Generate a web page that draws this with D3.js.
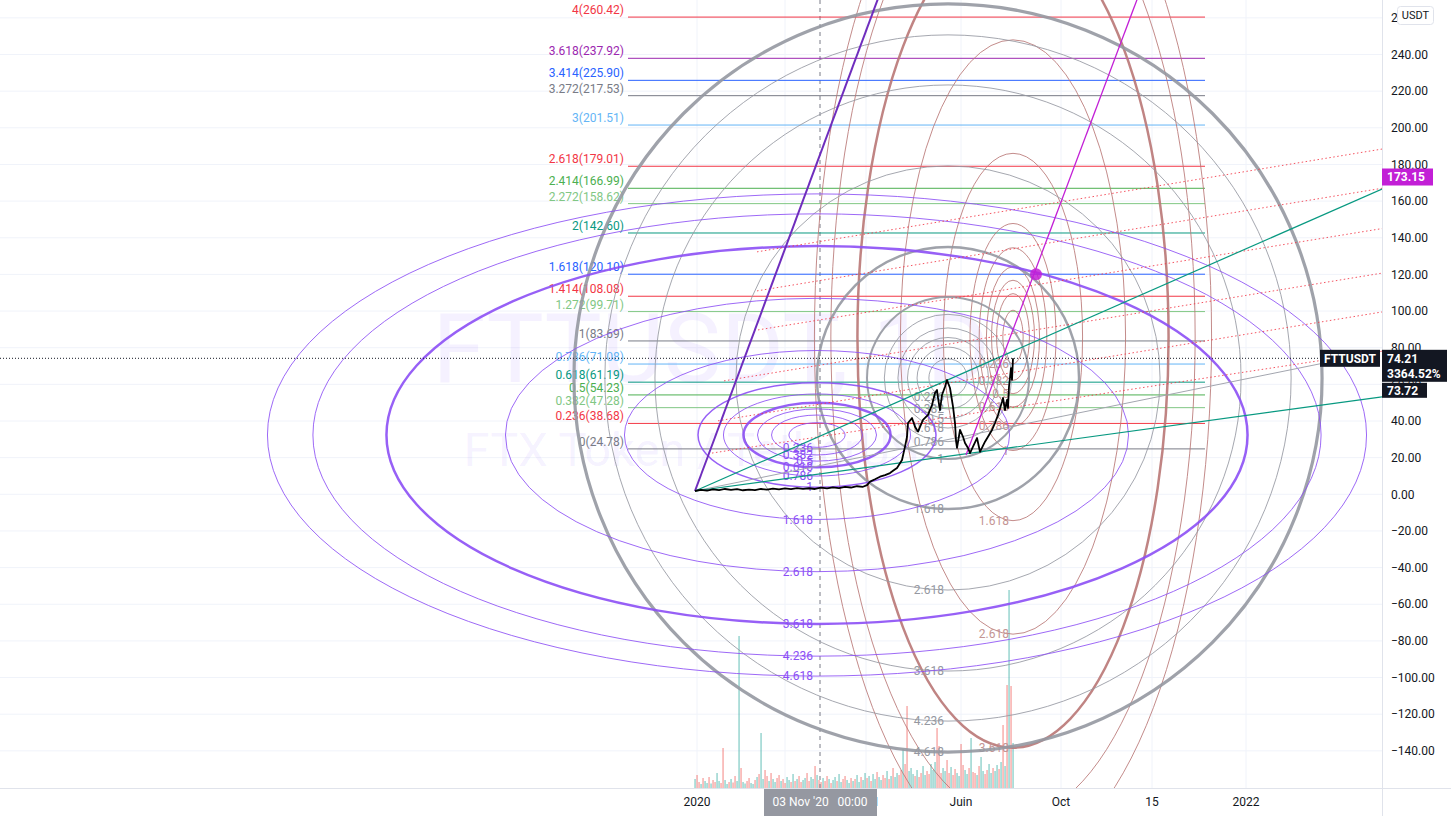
<!DOCTYPE html>
<html><head><meta charset="utf-8">
<script src="https://cdn.jsdelivr.net/npm/d3@7"></script>
<style>html,body{margin:0;padding:0;background:#fff;overflow:hidden}svg{display:block;font-family:Roboto,"Liberation Sans",sans-serif}</style>
</head><body><svg id="c" width="1451" height="816"></svg>
<script>
// ---------------- DATA ----------------
const priceDays = [0,6,12,18,24,30,36,42,48,54,60,66,72,78,84,90,96,102,108,114,120,126,132,138,144,150,156,162,168,172,
  175,180,185,190,195,198,202,207,210,212,213,217,220,223,228,233,237,240,242,243,245,247,250,252,255,258,260,261,262,
  265,268,270,273,275,278,282,285,290,293,297,300,303,307,308,310,312,313,314,316,317,318];
const priceValues = [1.8,2.4,2.0,2.7,2.3,2.9,2.4,2.8,2.2,2.6,2.3,2.9,2.5,3.1,2.7,3.2,2.8,3.4,3.0,3.3,2.9,3.6,3.2,3.8,3.4,4.0,3.7,4.4,4.1,5.0,
  6.9,8.2,9.6,10.5,11.6,12.8,14.4,18.7,26.0,31.4,38.9,41.6,36.9,34.2,40.6,43.3,48.7,55.3,56.9,52.6,46.0,54.2,58.7,62.4,58.0,47.8,38.9,29.6,25.3,
  35.1,31.4,28.0,25.3,22.5,26.0,30.7,23.2,28.7,31.4,35.1,38.9,43.3,50.5,52.6,46.0,51.5,47.1,58.7,68.9,62.4,74.21];

// volume: one bar every 2 days starting at day 0
const volumeValues = [18,26,12,8,20,14,10,22,9,16, 12,30,14,10,80,16,8,12,18,11, 24,14,304,40,12,9,14,20,10,8,
  16,22,28,110,18,36,24,14,30,18, 12,20,26,14,18,10,22,16,12,28, 14,18,24,12,16,20,30,14,22,18,
  44,26,16,12,20,14,24,18,10,16, 22,14,28,12,18,24,16,10,20,14, 18,26,12,22,16,30,20,24,14,28,
  18,32,22,16,26,20,34,18,24,40, 22,30,26,36,78,48,164,34,40,28, 24,36,22,30,44,26,34,28,48,36,
  52,120,84,30,40,34,56,30,42,26, 38,30,24,88,46,36,28,40,100,32, 30,26,44,62,34,28,36,48,30,40,
  34,46,38,52,126,44,206,396,204,90];
const volumeDirs = "udduduudud"+"duudduudud"+"duuduudduu"+"duduuddudu"+"uddudduudu"+"dudduudduu"+"dudduddudu"+"uduudduudu"+
  "duuduududu"+"uduuddudud"+"uuddudduuu"+"dudduudduu"+"uddduuddud"+"duudduudud"+"duduudduud"+"uududududu";

const priceTicks = [260,240,220,200,180,160,140,120,100,80,60,40,20,0,-20,-40,-60,-80,-100,-120,-140];
const timeTickDays = [2,90,171,266,366,457,551];
const timeTickLabels = ["2020","Juil","2021","Juin","Oct","15","2022"];

// Fib retracement
const fibLevels = [4,3.618,3.414,3.272,3,2.618,2.414,2.272,2,1.618,1.414,1.272,1,0.786,0.618,0.5,0.382,0.236,0];
const fibPrices = [260.42,237.92,225.90,217.53,201.51,179.01,166.99,158.62,142.60,120.10,108.08,99.71,83.69,71.08,61.19,54.23,47.28,38.68,24.78];
const fibStartDay = -67, fibEndDay = 510;

// Fib circles (center day, center price, unit radius in days, unit radius in price)
const circleLevels = [0.236,0.382,0.5,0.618,0.786,1,1.618,2.618,3.618,4.236,4.618];
const purpleCircle = [122, 32.36, 119, 28.49];
const grayCircle = [253, 63.47, 81, 44.2];
const roseCircle = [318, 85.84, 43, 61.94];

// Trend lines [day1, price1, day2, price2]
const purpleRay = [0,1.8,188.8,279];
const magentaRay = [271,21.5,449.4,280.7];
const tealA = [0,1.8,687,166.6];
const tealB = [0,1.8,687,53.2];
const grayC = [0,1.8,625,71.2];
const redDotted = [[62,132.3,687,188.4],[62,111.0,687,167.0],[63,89.7,687,145.0],[29,61.9,687,120.7],[23,40.1,687,99.5],[17,22.5,687,78.1]];
const dotPoint = [341,120.1];
const lastPrice = 74.21, lastPct = "3364.52%", secondPrice = 73.72, magentaPrice = 173.15;
const crosshairDay = 125, crosshairLabel = "03 Nov '20   00:00";

// ---------------- STYLE ----------------
const fibColors = {"4":"#f23645","3.618":"#9c27b0","3.414":"#2962ff","3.272":"#787b86","3":"#64b5f6","2.618":"#f23645",
 "2.414":"#4caf50","2.272":"#81c784","2":"#089981","1.618":"#2962ff","1.414":"#f23645","1.272":"#81c784","1":"#787b86",
 "0.786":"#64b5f6","0.618":"#089981","0.5":"#4caf50","0.382":"#81c784","0.236":"#f23645","0":"#787b86"};
const W = 1451, H = 816, paneW = 1382, paneH = 788;

const svg = d3.select("#c");
const x = d3.scaleLinear().domain([0,318]).range([695,1013]);
const y = d3.scaleLinear().domain([0,240]).range([494.3,54.5]);
const vy = d3.scaleLinear().domain([0,400]).range([paneH, paneH-200]);

svg.append("rect").attr("width",W).attr("height",H).attr("fill","#fff");
svg.append("defs").append("clipPath").attr("id","pane").append("rect").attr("width",paneW).attr("height",paneH);
const pane = svg.append("g").attr("clip-path","url(#pane)");

// grid
pane.selectAll(".hg").data(priceTicks).join("line").attr("x1",0).attr("x2",paneW)
  .attr("y1",d=>y(d)).attr("y2",d=>y(d)).attr("stroke","#f0f3fa").attr("stroke-width",1);
pane.selectAll(".vg").data(timeTickDays).join("line").attr("y1",0).attr("y2",paneH)
  .attr("x1",d=>x(d)).attr("x2",d=>x(d)).attr("stroke","#f0f3fa").attr("stroke-width",1);

// watermark
pane.append("text").attr("x",paneW/2+20).attr("y",382).attr("text-anchor","middle").attr("font-size",96)
  .attr("fill","#7b4dff").attr("fill-opacity",0.08).text("FTTUSDT, 1D");
pane.append("text").attr("x",paneW/2).attr("y",466).attr("text-anchor","middle").attr("font-size",47)
  .attr("fill","#7b4dff").attr("fill-opacity",0.08).text("FTX Token / TetherUS");

// volume
pane.selectAll(".vol").data(volumeValues).join("rect")
  .attr("x",(d,i)=>x(i*2)-0.6).attr("width",1.3)
  .attr("y",d=>vy(d)).attr("height",d=>paneH-vy(d))
  .attr("fill",(d,i)=>volumeDirs[i]==="u"?"rgba(38,166,154,0.55)":"rgba(239,83,80,0.55)");

// crosshair vertical
pane.append("line").attr("x1",x(crosshairDay)).attr("x2",x(crosshairDay)).attr("y1",0).attr("y2",paneH)
  .attr("stroke","#787b86").attr("stroke-dasharray","4,4").attr("stroke-width",1);

// fib retracement
const fibG = pane.append("g");
fibLevels.forEach((lv,i)=>{
  const c = fibColors[String(lv)];
  fibG.append("line").attr("x1",x(fibStartDay)).attr("x2",x(fibEndDay)).attr("y1",y(fibPrices[i])).attr("y2",y(fibPrices[i]))
    .attr("stroke",c).attr("stroke-width",1);
  fibG.append("text").attr("x",x(fibStartDay)-4).attr("y",y(fibPrices[i])-3).attr("text-anchor","end")
    .attr("font-size",12).attr("fill",c).text(lv+"("+fibPrices[i].toFixed(2)+")");
});

// fib circles
function drawCircles(spec, color, thick, labelColor){
  const g = pane.append("g");
  const [cd,cp,ud,up] = spec;
  const cx = x(cd), cy = y(cp);
  circleLevels.forEach(lv=>{
    const rx = x(cd+lv*ud)-cx, ry = cy - y(cp+lv*up);
    g.append("ellipse").attr("cx",cx).attr("cy",cy).attr("rx",rx).attr("ry",ry)
      .attr("fill","none").attr("stroke",color).attr("stroke-width",thick[lv]||1).attr("stroke-opacity",thick[lv]?0.9:0.85);
  });
  circleLevels.forEach(lv=>{
    const ly = cy + (cy - y(cp+lv*up));
    if (ly > paneH - 8) return;
    g.append("text").attr("x",cx-4).attr("y",ly).attr("dy","0.35em").attr("text-anchor","end")
      .attr("font-size",12).attr("fill",labelColor).text(lv);
  });
}
drawCircles(roseCircle, "#b97775", {3.618:2.5}, "#c49594");
drawCircles(grayCircle, "#9598a1", {1:2, 1.618:2.5, 4.618:3.2}, "#9598a1");
drawCircles(purpleCircle, "#8c4ff5", {0.618:2.5, 1:1.5, 3.618:2.5}, "#8c4ff5");

// lines
function seg(s){ return pane.append("line").attr("x1",x(s[0])).attr("y1",y(s[1])).attr("x2",x(s[2])).attr("y2",y(s[3])); }
redDotted.forEach(s=>seg(s).attr("stroke","#f23645").attr("stroke-width",1).attr("stroke-dasharray","1.5,2.5").attr("stroke-opacity",0.85));
seg(grayC).attr("stroke","#a3a6af").attr("stroke-width",1);
seg(tealA).attr("stroke","#089981").attr("stroke-width",1.2);
seg(tealB).attr("stroke","#089981").attr("stroke-width",1.2);
seg(purpleRay).attr("stroke","#6f2dbd").attr("stroke-width",2);
seg(magentaRay).attr("stroke","#c21fd6").attr("stroke-width",1.3);
pane.append("circle").attr("cx",x(dotPoint[0])).attr("cy",y(dotPoint[1])).attr("r",6).attr("fill","#c21fd6").attr("fill-opacity",0.85);

// last price dotted line
pane.append("line").attr("x1",0).attr("x2",1320).attr("y1",y(lastPrice)).attr("y2",y(lastPrice))
  .attr("stroke","#131722").attr("stroke-width",1).attr("stroke-dasharray","1,2");

// price line
const pts = priceDays.map((d,i)=>[d,priceValues[i]]);
pane.append("path").datum(pts).attr("d",d3.line().x(d=>x(d[0])).y(d=>y(d[1])))
  .attr("fill","none").attr("stroke","#000").attr("stroke-width",1.8).attr("stroke-linejoin","round");

// ---------------- AXES ----------------
svg.append("line").attr("x1",paneW+0.5).attr("x2",paneW+0.5).attr("y1",0).attr("y2",H).attr("stroke","#e0e3eb");
svg.append("line").attr("x1",0).attr("x2",W).attr("y1",paneH+0.5).attr("y2",paneH+0.5).attr("stroke","#e0e3eb");
const fmt = d3.format(".2f");
svg.selectAll(".pt").data(priceTicks).join("text").attr("x",1391).attr("y",d=>y(d)).attr("dy","0.35em")
  .attr("font-size",12).attr("fill","#131722").text(d=>fmt(d));
svg.selectAll(".tt").data(timeTickDays).join("text").attr("x",d=>x(d)).attr("y",806).attr("text-anchor","middle")
  .attr("font-size",12).attr("fill","#131722").text((d,i)=>timeTickLabels[i]);

// crosshair time label
const chx = x(crosshairDay);
svg.append("rect").attr("x",chx-56).attr("y",paneH+1).attr("width",113).attr("height",H-paneH-1).attr("fill","#9598a1");
svg.append("text").attr("x",chx).attr("y",806).attr("text-anchor","middle").attr("font-size",12).attr("fill","#fff")
  .attr("xml:space","preserve").style("white-space","pre").text(crosshairLabel);

// USDT badge
svg.append("rect").attr("x",1397.5).attr("y",6.5).attr("width",36).attr("height",18).attr("rx",3).attr("fill","#fff").attr("stroke","#e0e3eb");
svg.append("text").attr("x",1415.5).attr("y",15.5).attr("dy","0.35em").attr("text-anchor","middle").attr("font-size",11).attr("fill","#131722").text("USDT");

// price labels
const my = y(magentaPrice);
svg.append("rect").attr("x",paneW).attr("y",my-8.5).attr("width",51).attr("height",17).attr("fill","#c21fd6");
svg.append("text").attr("x",1387).attr("y",my).attr("dy","0.35em").attr("font-size",12).attr("font-weight","bold").attr("fill","#fff").text(fmt(magentaPrice));

const ly = y(lastPrice);
svg.append("rect").attr("x",1320).attr("y",ly-8.5).attr("width",60).attr("height",17).attr("fill","#131722");
svg.append("text").attr("x",1350).attr("y",ly).attr("dy","0.35em").attr("text-anchor","middle").attr("font-size",12).attr("font-weight","bold").attr("fill","#fff").text("FTTUSDT");
svg.append("rect").attr("x",paneW).attr("y",ly-8.5).attr("width",65).attr("height",32).attr("fill","#131722");
svg.append("text").attr("x",1387).attr("y",ly).attr("dy","0.35em").attr("font-size",12).attr("font-weight","bold").attr("fill","#fff").text(fmt(lastPrice));
svg.append("text").attr("x",1387).attr("y",ly+15).attr("dy","0.35em").attr("font-size",12).attr("font-weight","bold").attr("fill","#fff").text(lastPct);
svg.append("rect").attr("x",paneW).attr("y",ly+24.5).attr("width",45).attr("height",15).attr("fill","#131722");
svg.append("text").attr("x",1387).attr("y",ly+32).attr("dy","0.35em").attr("font-size",12).attr("font-weight","bold").attr("fill","#fff").text(fmt(secondPrice));
</script></body></html>
